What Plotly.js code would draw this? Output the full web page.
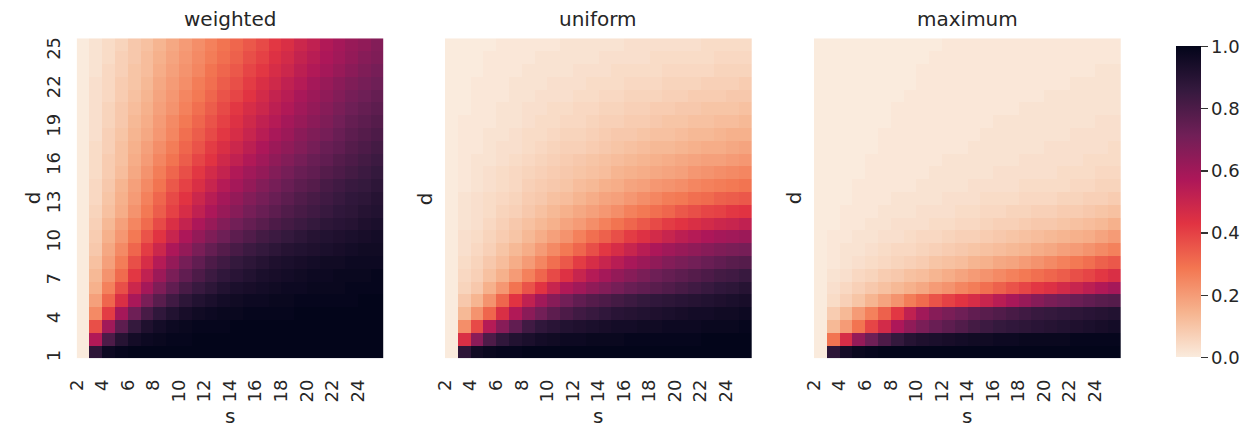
<!DOCTYPE html>
<html>
<head>
<meta charset="utf-8">
<script src="https://cdn.plot.ly/plotly-3.0.1.min.js"></script>
<style>html,body{margin:0;padding:0;background:#fff;}#chart{width:1255px;height:431px;}</style>
</head>
<body>
<div id="chart"></div>
<script>
// cell edges: column labelled s spans [s, s+1]; row labelled d spans [d, d+1]
const sEdges = [2,3,4,5,6,7,8,9,10,11,12,13,14,15,16,17,18,19,20,21,22,23,24,25,26];
const dEdges = [1,2,3,4,5,6,7,8,9,10,11,12,13,14,15,16,17,18,19,20,21,22,23,24,25,26];
const sTicks = [2,4,6,8,10,12,14,16,18,20,22,24];
const dTicks = [1,4,7,10,13,16,19,22,25];
const panelTitles = ["weighted","uniform","maximum"];
const xLabel = "s";
const yLabel = "d";
const cbTicks = [0,0.2,0.4,0.6,0.8,1.0];

// rows listed from d=1 (bottom) to d=25 (top); columns s=2..25
const weighted = [
[0,.88,.97,.99,1,1,1,1,1,1,1,1,1,1,1,1,1,1,1,1,1,1,1,1],
[0,.56,.8,.9,.95,.97,.98,.99,.99,1,1,1,1,1,1,1,1,1,1,1,1,1,1,1],
[0,.37,.6,.76,.86,.92,.95,.97,.98,.99,.99,.99,1,1,1,1,1,1,1,1,1,1,1,1],
[0,.24,.41,.59,.72,.81,.87,.91,.94,.96,.97,.98,.98,.99,.99,.99,.99,1,1,1,1,1,1,1],
[0,.19,.32,.45,.58,.69,.77,.83,.88,.91,.93,.95,.96,.97,.97,.98,.98,.99,.99,.99,.99,.99,1,1],
[0,.15,.26,.37,.49,.59,.68,.75,.81,.85,.88,.91,.93,.94,.95,.96,.97,.97,.98,.98,.98,.99,.99,.99],
[0,.13,.22,.31,.42,.52,.61,.69,.75,.8,.84,.87,.89,.91,.93,.94,.95,.96,.97,.97,.98,.98,.98,.99],
[0,.11,.19,.27,.37,.46,.55,.63,.7,.75,.8,.83,.86,.88,.9,.92,.93,.94,.95,.96,.96,.97,.97,.97],
[0,.09,.17,.24,.32,.41,.49,.57,.63,.69,.74,.78,.81,.84,.86,.88,.9,.91,.92,.93,.94,.95,.96,.96],
[0,.08,.15,.21,.28,.36,.43,.5,.57,.63,.68,.72,.76,.79,.82,.84,.86,.88,.9,.91,.92,.93,.94,.95],
[0,.07,.13,.19,.25,.31,.38,.45,.51,.57,.62,.67,.71,.74,.77,.8,.82,.84,.86,.88,.89,.9,.92,.93],
[0,.06,.11,.16,.22,.28,.34,.4,.46,.52,.57,.62,.66,.7,.73,.76,.79,.81,.83,.85,.87,.88,.9,.91],
[0,.05,.1,.15,.2,.26,.32,.38,.43,.49,.54,.59,.63,.67,.7,.73,.76,.79,.81,.83,.85,.87,.88,.9],
[0,.05,.09,.14,.19,.24,.29,.35,.4,.45,.5,.55,.59,.63,.67,.7,.73,.76,.78,.81,.83,.85,.86,.88],
[0,.04,.08,.12,.17,.22,.27,.32,.37,.42,.47,.51,.56,.6,.63,.67,.7,.73,.75,.78,.8,.82,.84,.86],
[0,.04,.08,.11,.16,.2,.25,.29,.34,.39,.43,.48,.52,.56,.6,.64,.67,.7,.73,.75,.78,.8,.82,.84],
[0,.04,.07,.11,.15,.19,.23,.27,.32,.36,.41,.45,.49,.53,.57,.61,.64,.67,.7,.73,.75,.78,.8,.82],
[0,.03,.07,.1,.14,.17,.21,.25,.3,.34,.38,.42,.46,.5,.54,.58,.61,.65,.68,.7,.73,.76,.78,.8],
[0,.03,.06,.09,.13,.16,.2,.24,.28,.32,.36,.4,.44,.48,.52,.55,.59,.62,.65,.68,.71,.74,.76,.78],
[0,.03,.06,.09,.12,.15,.19,.22,.26,.3,.34,.38,.42,.46,.49,.53,.56,.6,.63,.66,.69,.72,.74,.76],
[0,.03,.05,.08,.11,.14,.18,.21,.25,.28,.32,.36,.39,.43,.47,.51,.54,.58,.61,.64,.67,.7,.72,.74],
[0,.03,.05,.08,.1,.13,.17,.2,.23,.27,.3,.34,.37,.41,.45,.48,.52,.55,.59,.62,.65,.68,.7,.72],
[0,.02,.05,.07,.1,.12,.16,.19,.22,.25,.29,.32,.35,.39,.42,.46,.49,.53,.56,.59,.62,.65,.68,.7],
[0,.02,.04,.07,.09,.12,.15,.18,.21,.24,.27,.3,.33,.37,.4,.44,.47,.51,.54,.57,.6,.63,.66,.68],
[0,.02,.04,.06,.09,.11,.14,.17,.2,.23,.26,.29,.32,.35,.38,.42,.45,.49,.52,.56,.59,.62,.64,.67]
];

const uniform = [
[0,.88,.96,.98,.99,.99,1,1,1,1,1,1,1,1,1,1,1,1,1,1,1,1,1,1],
[0,.45,.65,.8,.87,.91,.93,.95,.96,.97,.97,.98,.98,.98,.99,.99,.99,.99,.99,.99,1,1,1,1],
[0,.23,.38,.55,.66,.75,.83,.87,.89,.91,.92,.93,.94,.95,.95,.96,.96,.97,.97,.97,.98,.98,.98,.99],
[0,.13,.22,.32,.45,.56,.65,.71,.76,.8,.83,.85,.87,.89,.9,.91,.92,.93,.94,.95,.95,.96,.96,.97],
[0,.09,.14,.22,.32,.43,.52,.6,.66,.71,.75,.78,.8,.82,.84,.86,.87,.88,.89,.9,.91,.92,.93,.94],
[0,.06,.09,.15,.21,.29,.36,.43,.5,.56,.6,.64,.67,.7,.73,.75,.77,.79,.81,.83,.85,.87,.88,.9],
[0,.05,.07,.11,.15,.2,.26,.32,.38,.44,.5,.55,.59,.63,.66,.69,.72,.74,.76,.78,.8,.82,.83,.85],
[0,.04,.06,.09,.12,.16,.2,.25,.3,.35,.41,.46,.5,.54,.58,.61,.64,.67,.69,.71,.73,.75,.77,.78],
[0,.03,.05,.07,.1,.13,.16,.2,.24,.28,.32,.37,.42,.46,.5,.54,.57,.6,.62,.64,.66,.68,.69,.7],
[0,.03,.04,.06,.08,.1,.13,.16,.19,.22,.26,.3,.33,.37,.41,.44,.47,.5,.53,.55,.57,.59,.6,.61],
[0,.02,.03,.05,.07,.09,.11,.13,.15,.18,.2,.23,.26,.29,.32,.35,.38,.41,.43,.45,.47,.49,.5,.52],
[0,.02,.03,.04,.06,.07,.09,.11,.13,.15,.17,.19,.21,.23,.26,.28,.3,.32,.35,.37,.39,.4,.42,.43],
[0,.02,.03,.04,.05,.06,.08,.09,.11,.12,.14,.16,.18,.19,.21,.23,.25,.27,.28,.3,.31,.33,.34,.35],
[0,.01,.02,.03,.04,.05,.07,.08,.09,.1,.12,.13,.15,.16,.18,.19,.21,.22,.23,.25,.26,.27,.28,.29],
[0,.01,.02,.03,.04,.05,.06,.07,.08,.09,.1,.11,.12,.14,.15,.16,.17,.18,.19,.21,.22,.23,.24,.25],
[0,.01,.02,.02,.03,.04,.05,.06,.07,.08,.09,.1,.11,.12,.13,.14,.15,.16,.17,.18,.19,.19,.2,.21],
[0,.01,.01,.02,.03,.03,.04,.05,.06,.07,.07,.08,.09,.1,.11,.12,.13,.13,.14,.15,.16,.16,.17,.18],
[0,.01,.01,.02,.02,.03,.04,.04,.05,.06,.06,.07,.08,.09,.09,.1,.11,.11,.12,.13,.13,.14,.15,.15],
[0,.01,.01,.01,.02,.02,.03,.04,.04,.05,.05,.06,.07,.07,.08,.08,.09,.1,.1,.11,.11,.12,.12,.13],
[0,0,.01,.01,.02,.02,.03,.03,.04,.04,.05,.05,.06,.06,.07,.07,.08,.08,.09,.09,.1,.1,.1,.11],
[0,0,.01,.01,.01,.02,.02,.03,.03,.03,.04,.04,.05,.05,.06,.06,.06,.07,.07,.08,.08,.08,.09,.09],
[0,0,.01,.01,.01,.02,.02,.02,.03,.03,.03,.04,.04,.04,.05,.05,.05,.06,.06,.06,.07,.07,.07,.08],
[0,0,0,.01,.01,.01,.02,.02,.02,.02,.03,.03,.03,.04,.04,.04,.04,.05,.05,.05,.05,.06,.06,.06],
[0,0,0,.01,.01,.01,.01,.02,.02,.02,.02,.02,.03,.03,.03,.03,.04,.04,.04,.04,.04,.05,.05,.05],
[0,0,0,0,.01,.01,.01,.01,.01,.02,.02,.02,.02,.02,.03,.03,.03,.03,.03,.03,.04,.04,.04,.04]
];

const maximum = [
[0,.88,.95,.98,.99,1,1,1,1,1,1,1,1,1,1,1,1,1,1,1,1,1,1,1],
[0,.29,.46,.63,.72,.8,.86,.9,.92,.93,.94,.95,.96,.96,.97,.97,.98,.98,.98,.98,.99,.99,.99,.99],
[0,.13,.2,.29,.39,.47,.57,.64,.69,.73,.76,.79,.82,.84,.86,.87,.88,.89,.9,.91,.92,.93,.94,.95],
[0,.08,.13,.2,.26,.33,.42,.52,.6,.66,.69,.72,.75,.77,.79,.81,.83,.85,.86,.87,.88,.89,.9,.91],
[0,.04,.07,.1,.14,.18,.22,.27,.31,.36,.4,.43,.46,.5,.54,.58,.62,.66,.69,.71,.73,.75,.77,.78],
[0,.03,.05,.07,.09,.11,.13,.15,.17,.2,.22,.25,.27,.3,.33,.36,.39,.42,.44,.47,.5,.53,.56,.59],
[0,.02,.03,.05,.06,.08,.09,.11,.12,.14,.16,.18,.2,.22,.24,.26,.28,.3,.32,.34,.37,.39,.42,.45],
[0,.01,.02,.03,.04,.05,.06,.07,.08,.1,.11,.12,.14,.15,.17,.18,.2,.22,.24,.26,.28,.3,.33,.35],
[0,.01,.02,.02,.03,.04,.05,.05,.06,.07,.08,.09,.1,.11,.12,.13,.14,.16,.17,.19,.2,.22,.24,.26],
[0,.01,.01,.02,.02,.03,.03,.04,.05,.05,.06,.07,.07,.08,.09,.1,.11,.12,.13,.14,.15,.16,.18,.2],
[0,0,.01,.01,.02,.02,.03,.03,.03,.04,.04,.05,.05,.06,.07,.07,.08,.09,.09,.1,.11,.12,.13,.15],
[0,0,.01,.01,.01,.02,.02,.02,.03,.03,.03,.04,.04,.05,.05,.06,.06,.07,.07,.08,.08,.09,.1,.11],
[0,0,0,.01,.01,.01,.02,.02,.02,.02,.03,.03,.03,.04,.04,.04,.05,.05,.05,.06,.06,.07,.07,.08],
[0,0,0,.01,.01,.01,.01,.01,.02,.02,.02,.02,.03,.03,.03,.03,.04,.04,.04,.04,.05,.05,.06,.06],
[0,0,0,0,.01,.01,.01,.01,.01,.02,.02,.02,.02,.02,.03,.03,.03,.03,.03,.04,.04,.04,.05,.05],
[0,0,0,0,.01,.01,.01,.01,.01,.01,.02,.02,.02,.02,.02,.02,.03,.03,.03,.03,.03,.04,.04,.04],
[0,0,0,0,0,.01,.01,.01,.01,.01,.01,.01,.02,.02,.02,.02,.02,.02,.03,.03,.03,.03,.03,.04],
[0,0,0,0,0,.01,.01,.01,.01,.01,.01,.01,.01,.02,.02,.02,.02,.02,.02,.02,.03,.03,.03,.03],
[0,0,0,0,0,0,.01,.01,.01,.01,.01,.01,.01,.01,.02,.02,.02,.02,.02,.02,.02,.02,.03,.03],
[0,0,0,0,0,0,.01,.01,.01,.01,.01,.01,.01,.01,.01,.01,.02,.02,.02,.02,.02,.02,.02,.02],
[0,0,0,0,0,0,0,.01,.01,.01,.01,.01,.01,.01,.01,.01,.01,.01,.02,.02,.02,.02,.02,.02],
[0,0,0,0,0,0,0,0,.01,.01,.01,.01,.01,.01,.01,.01,.01,.01,.01,.01,.02,.02,.02,.02],
[0,0,0,0,0,0,0,0,.01,.01,.01,.01,.01,.01,.01,.01,.01,.01,.01,.01,.01,.01,.02,.02],
[0,0,0,0,0,0,0,0,0,.01,.01,.01,.01,.01,.01,.01,.01,.01,.01,.01,.01,.01,.01,.01],
[0,0,0,0,0,0,0,0,0,0,.01,.01,.01,.01,.01,.01,.01,.01,.01,.01,.01,.01,.01,.01]
];

// seaborn "rocket_r"
const rocketR = [
  [0.0,'#faebdd'],[0.143,'#f6b48f'],[0.286,'#f37651'],[0.429,'#e13342'],
  [0.571,'#ad1759'],[0.714,'#701f57'],[0.857,'#35193e'],[1.0,'#03051a']
];

const txt = '#262626';
const FONT = 'DejaVu Sans, sans-serif';
const W = 1255, H = 431;
const xDom = [[76.7/W, 383.3/W],[445/W, 751.7/W],[814/W, 1120.7/W]];
const yDom = [(H-358.3)/H, (H-38.3)/H];

const series = [weighted, uniform, maximum];
const traces = series.map((z, i) => {
  const t = {
    type: 'heatmap', z: z, x: sEdges, y: dEdges,
    xaxis: i === 0 ? 'x' : 'x' + (i+1),
    yaxis: i === 0 ? 'y' : 'y' + (i+1),
    colorscale: rocketR, zmin: 0, zmax: 1,
    showscale: i === 0
  };
  if (i === 0) {
    t.colorbar = {
      x: 1176/W, xanchor: 'left', xref: 'paper',
      y: (H-357.5)/H, yanchor: 'bottom', yref: 'paper',
      len: (357.5-47)/H, lenmode: 'fraction',
      thickness: 25, thicknessmode: 'pixels',
      xpad: 0, ypad: 0, outlinewidth: 0,
      tickvals: cbTicks, tickformat: '.1f',
      ticks: 'outside', ticklen: 7, tickwidth: 1.3, tickcolor: '#333',
      tickfont: {family: FONT, size: 18, color: txt}
    };
  }
  return t;
});

const annotations = [];
panelTitles.forEach((t, i) => {
  const cx = (xDom[i][0] + xDom[i][1]) / 2;
  annotations.push({
    text: t, xref: 'paper', yref: 'paper', x: cx, y: (H-19)/H,
    xanchor: 'center', yanchor: 'middle', showarrow: false,
    font: {family: FONT, size: 20, color: txt}
  });
  // x-axis title
  annotations.push({
    text: xLabel, xref: 'paper', yref: 'paper', x: cx, y: 1/H,
    xanchor: 'center', yanchor: 'bottom', showarrow: false,
    font: {family: FONT, size: 20, color: txt}
  });
  // y-axis title
  const yx = i === 0 ? 33 : xDom[i][0]*W - 20;
  annotations.push({
    text: yLabel, xref: 'paper', yref: 'paper', x: yx/W, y: (yDom[0]+yDom[1])/2,
    xanchor: 'center', yanchor: 'middle', showarrow: false, textangle: -90,
    font: {family: FONT, size: 20, color: txt}
  });
});

const layout = {
  width: W, height: H,
  margin: {l: 0, r: 0, t: 0, b: 0},
  paper_bgcolor: '#fff', plot_bgcolor: '#fff',
  font: {family: FONT, color: txt},
  showlegend: false,
  annotations: annotations
};

for (let i = 0; i < 3; i++) {
  const xs = i === 0 ? 'xaxis' : 'xaxis' + (i+1);
  const ys = i === 0 ? 'yaxis' : 'yaxis' + (i+1);
  layout[xs] = {
    domain: xDom[i], anchor: i === 0 ? 'y' : 'y' + (i+1),
    range: [2, 26], tickvals: sTicks, tickangle: -90,
    ticks: 'outside', ticklen: 13, tickcolor: 'rgba(0,0,0,0)',
    tickfont: {family: FONT, size: 18, color: txt},
    showgrid: false, zeroline: false, showline: false, fixedrange: true
  };
  layout[ys] = {
    domain: yDom, anchor: i === 0 ? 'x' : 'x' + (i+1),
    range: [1, 26], tickvals: i === 0 ? dTicks : [], showticklabels: i === 0,
    tickangle: -90,
    ticks: i === 0 ? 'outside' : '', ticklen: 9, tickcolor: 'rgba(0,0,0,0)',
    tickfont: {family: FONT, size: 18, color: txt},
    showgrid: false, zeroline: false, showline: false, fixedrange: true
  };
}

Plotly.newPlot('chart', traces, layout, {displayModeBar: false, staticPlot: true});
</script>
</body>
</html>
